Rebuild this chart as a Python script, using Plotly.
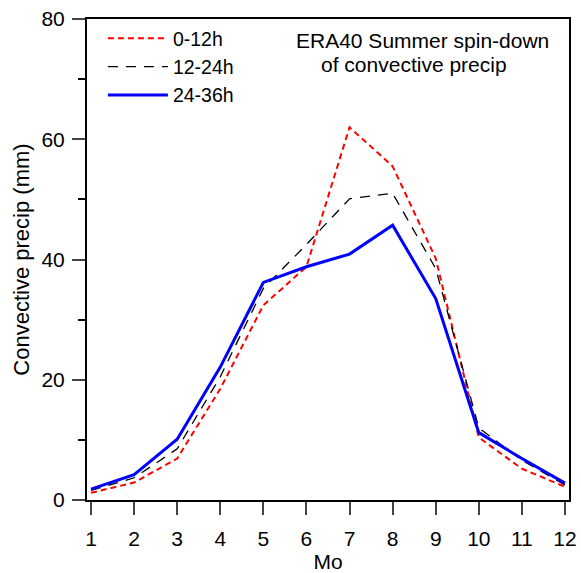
import plotly.graph_objects as go

months = [1, 2, 3, 4, 5, 6, 7, 8, 9, 10, 11, 12]
h0_12 = [1.2, 2.9, 6.9, 18.5, 32.4, 38.8, 62.0, 55.5, 40.2, 10.4, 5.2, 2.2]
h12_24 = [1.6, 3.7, 8.5, 20.5, 35.2, 42.5, 50.1, 51.0, 38.5, 12.0, 6.6, 2.5]
h24_36 = [1.8, 4.2, 10.1, 22.1, 36.2, 38.8, 40.9, 45.7, 33.5, 11.2, 6.9, 2.8]

tick_vals_x = months
tick_vals_y = [0, 20, 40, 60, 80]

FONT = "Liberation Sans, Arial, sans-serif"
FS = 21

fig = go.Figure()
fig.add_trace(go.Scatter(x=months, y=h0_12, mode="lines", name="0-12h",
                         line=dict(color="#ff0000", width=2, dash="6px,4px")))
fig.add_trace(go.Scatter(x=months, y=h12_24, mode="lines", name="12-24h",
                         line=dict(color="#000000", width=1.3, dash="10px,8px")))
fig.add_trace(go.Scatter(x=months, y=h24_36, mode="lines", name="24-36h",
                         line=dict(color="#0000ff", width=3)))

fig.add_annotation(x=0.43, y=0.955, xref="paper", yref="paper", xanchor="left", yanchor="middle",
                   text="ERA40 Summer spin-down", showarrow=False,
                   font=dict(family=FONT, size=FS, color="black"))
fig.add_annotation(x=0.482, y=0.906, xref="paper", yref="paper", xanchor="left", yanchor="middle",
                   text="of convective precip", showarrow=False,
                   font=dict(family=FONT, size=FS, color="black"))

fig.update_layout(
    width=581, height=573,
    margin=dict(l=87, r=12, t=19, b=73),
    paper_bgcolor="white", plot_bgcolor="white",
    font=dict(family=FONT, size=FS, color="black"),
    showlegend=True,
    legend=dict(x=0.033, y=1.0, xanchor="left", yanchor="top",
                bgcolor="rgba(0,0,0,0)", font=dict(size=19.5), tracegroupgap=0,
                itemwidth=60),
)
fig.update_xaxes(
    range=[0.907, 12.093], tickvals=tick_vals_x, ticks="outside", ticklen=13, tickwidth=1.5,
    showline=True, linewidth=2, linecolor="black", mirror=True, showgrid=False, zeroline=False,
    title=dict(text="Mo", font=dict(size=FS), standoff=5),
    tickfont=dict(size=FS), ticklabelstandoff=6, automargin=False,
)
fig.update_yaxes(
    range=[0, 80], tickvals=tick_vals_y, ticks="outside", ticklen=13, tickwidth=1.5,
    minor=dict(tickvals=[10, 30, 50, 70], ticks="outside", ticklen=7, tickwidth=1.5, tickcolor="black"),
    showline=True, linewidth=2, linecolor="black", mirror=True, showgrid=False, zeroline=False,
    title=dict(text="Convective precip (mm)", font=dict(size=22), standoff=6),
    tickfont=dict(size=FS), ticklabelstandoff=3, automargin=False,
)

fig.write_html("out.html", config={"displayModeBar": False},
               post_script="document.body.style.margin='0';")
